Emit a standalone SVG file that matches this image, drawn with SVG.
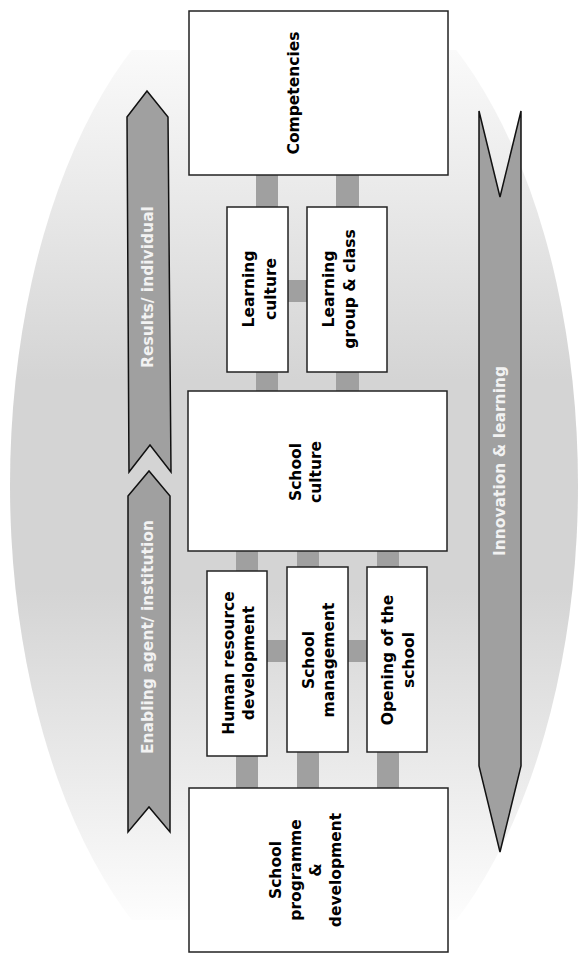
<svg xmlns="http://www.w3.org/2000/svg" width="587" height="967" viewBox="0 0 587 967">
<style>
.box{fill:#fff;stroke:#222;stroke-width:1.5}
.bar{fill:#a0a0a0}
.arrow{fill:#a0a0a0;stroke:#111;stroke-width:1.5;stroke-linejoin:miter}
.lbl{font-family:"DejaVu Sans",Verdana,sans-serif;font-weight:bold;font-size:15.5px;fill:#000;text-anchor:middle}
.albl{font-family:"DejaVu Sans",Verdana,sans-serif;font-weight:bold;font-size:15.5px;fill:#f2f2f2;text-anchor:middle}
</style>
<defs>
<linearGradient id="bg" x1="0" y1="50" x2="0" y2="920" gradientUnits="userSpaceOnUse">
<stop offset="0" stop-color="#fafafa"/>
<stop offset="0.38" stop-color="#d4d4d4"/>
<stop offset="0.62" stop-color="#d4d4d4"/>
<stop offset="1" stop-color="#fdfdfd"/>
</linearGradient>
<clipPath id="clip"><rect x="0" y="50" width="587" height="870"/></clipPath>
</defs>
<rect width="587" height="967" fill="#fff"/>
<ellipse id="background" cx="294" cy="485" rx="284" ry="530" fill="url(#bg)" clip-path="url(#clip)"/>

<g id="arrows">
<g id="results-individual">
<polygon class="arrow" points="127,117 147,91 168,117 171,472 150,445 129,472"/>
<text class="albl" transform="translate(153,287) rotate(-90)">Results/ individual</text>
</g>
<g id="enabling-agent">
<polygon class="arrow" points="128,496 149,471 170,496 170,832 149,807 128,832"/>
<text class="albl" transform="translate(153,637) rotate(-90)">Enabling agent/ institution</text>
</g>
<g id="innovation-learning">
<polygon class="arrow" points="479,111 500,197 521,111 521,766 500,852 479,766"/>
<text class="albl" transform="translate(505,461) rotate(-90)">Innovation &amp; learning</text>
</g>
</g>

<g id="connectors">
<rect class="bar" x="256" y="174" width="22" height="34"/>
<rect class="bar" x="336" y="174" width="23" height="34"/>
<rect class="bar" x="287" y="280" width="21" height="22"/>
<rect class="bar" x="256" y="371" width="22" height="21"/>
<rect class="bar" x="336" y="371" width="23" height="21"/>
<rect class="bar" x="236" y="550" width="22" height="22"/>
<rect class="bar" x="297" y="550" width="22" height="18"/>
<rect class="bar" x="377" y="550" width="22" height="18"/>
<rect class="bar" x="267" y="640" width="21" height="22"/>
<rect class="bar" x="347" y="640" width="21" height="22"/>
<rect class="bar" x="236" y="755" width="22" height="34"/>
<rect class="bar" x="297" y="751" width="22" height="38"/>
<rect class="bar" x="377" y="751" width="22" height="38"/>
</g>

<g id="competencies">
<rect class="box" x="189" y="11" width="259" height="164"/>
<text class="lbl" transform="translate(299,93) rotate(-90)">Competencies</text>
</g>
<g id="learning-culture">
<rect class="box" x="227" y="207" width="61" height="165"/>
<text class="lbl" transform="translate(0,289) rotate(-90)"><tspan x="0" y="254">Learning</tspan><tspan x="0" y="276">culture</tspan></text>
</g>
<g id="learning-group-class">
<rect class="box" x="307" y="207" width="80" height="165"/>
<text class="lbl" transform="translate(0,289) rotate(-90)"><tspan x="0" y="334">Learning</tspan><tspan x="0" y="355">group &amp; class</tspan></text>
</g>
<g id="school-culture">
<rect class="box" x="188" y="391" width="259" height="160"/>
<text class="lbl" transform="translate(0,472) rotate(-90)"><tspan x="0" y="301">School</tspan><tspan x="0" y="321">culture</tspan></text>
</g>
<g id="human-resource-development">
<rect class="box" x="207" y="571" width="60" height="185"/>
<text class="lbl" transform="translate(0,663) rotate(-90)"><tspan x="0" y="234">Human resource</tspan><tspan x="0" y="254">development</tspan></text>
</g>
<g id="school-management">
<rect class="box" x="287" y="567" width="61" height="185"/>
<text class="lbl" transform="translate(0,660) rotate(-90)"><tspan x="0" y="314">School</tspan><tspan x="0" y="334">management</tspan></text>
</g>
<g id="opening-of-the-school">
<rect class="box" x="367" y="567" width="60" height="185"/>
<text class="lbl" transform="translate(0,660) rotate(-90)"><tspan x="0" y="393">Opening of the</tspan><tspan x="0" y="414">school</tspan></text>
</g>
<g id="school-programme-development">
<rect class="box" x="189" y="788" width="259" height="164"/>
<text class="lbl" transform="translate(0,870) rotate(-90)"><tspan x="0" y="281">School</tspan><tspan x="0" y="301">programme</tspan><tspan x="0" y="321">&amp;</tspan><tspan x="0" y="341">development</tspan></text>
</g>
</svg>
